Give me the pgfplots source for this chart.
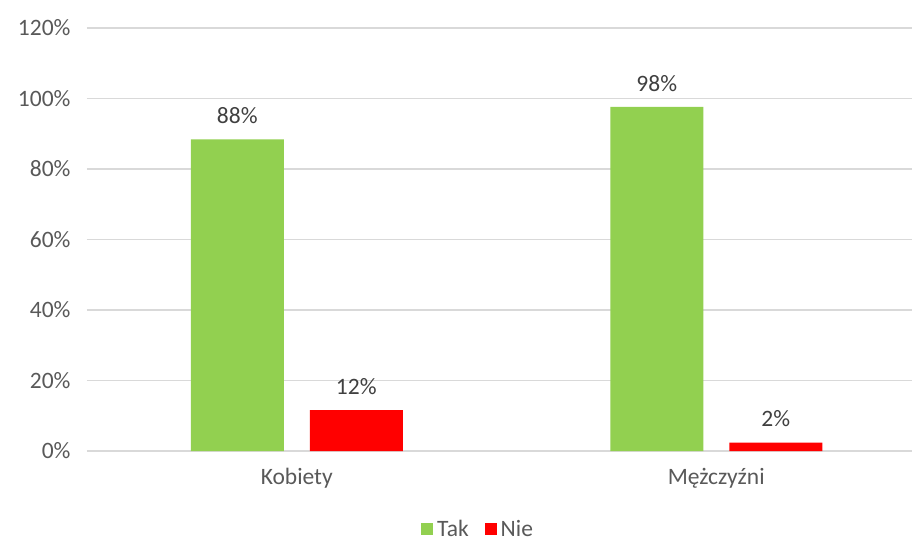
\documentclass[border=0pt]{standalone}
\usepackage{fontspec}
\setmainfont{Carlito}
\usepackage{pgfplots}
\pgfplotsset{compat=1.18}
\definecolor{tak}{HTML}{92D050}
\definecolor{nie}{HTML}{FF0000}
\definecolor{gridc}{HTML}{D9D9D9}
\definecolor{txt}{HTML}{595959}
\definecolor{lbl}{HTML}{404040}
\begin{document}
\begin{tikzpicture}
\begin{axis}[
  at={(0,0)}, anchor=south west,
  scale only axis, width=825pt, height=423pt,
  xmin=-0.5, xmax=1.4666, ymin=0, ymax=120,
  ybar, bar width=93pt,
  xtick={0,1}, xticklabels={Kobiety,Mężczyźni},
  ytick={0,20,40,60,80,100,120},
  yticklabels={0\%,20\%,40\%,60\%,80\%,100\%,120\%},
  ymajorgrids, grid style={gridc, line width=1.5pt},
  axis line style={draw=none},
  major tick length=0pt,
  /pgf/number format/assume math mode=true,
  tick label style={font=\fontsize{23.5}{28}\selectfont, text=txt},
  yticklabel style={xshift=-13pt},
  xticklabel style={yshift=-14pt},
  nodes near coords={\pgfmathprintnumber[fixed,precision=0,assume math mode=true]{\pgfplotspointmeta}\%},
  every node near coord/.append style={font=\fontsize{23.5}{28}\selectfont, text=lbl, yshift=12pt},
  legend columns=2,
  legend style={at={(0.474,-0.185)}, anchor=center, draw=none, fill=none,
    font=\fontsize{23.5}{28}\selectfont, text=txt, inner sep=1pt,
    /tikz/every odd column/.append style={column sep=2pt},
    /tikz/every even column/.append style={column sep=14pt}},
  legend image code/.code={\fill[#1] (-3pt,-6pt) rectangle (9pt,6pt);},
  clip=false,
]
\addplot[fill=tak, draw=none, bar shift=-59.5pt] coordinates {(0,88.4) (1,97.6)};
\addplot[fill=nie, draw=none, bar shift=59.5pt] coordinates {(0,11.6) (1,2.4)};
\legend{Tak,Nie}
\end{axis}
\pgfresetboundingbox
\path (-87pt,-91pt) rectangle (825pt,451pt);
\end{tikzpicture}
\end{document}
